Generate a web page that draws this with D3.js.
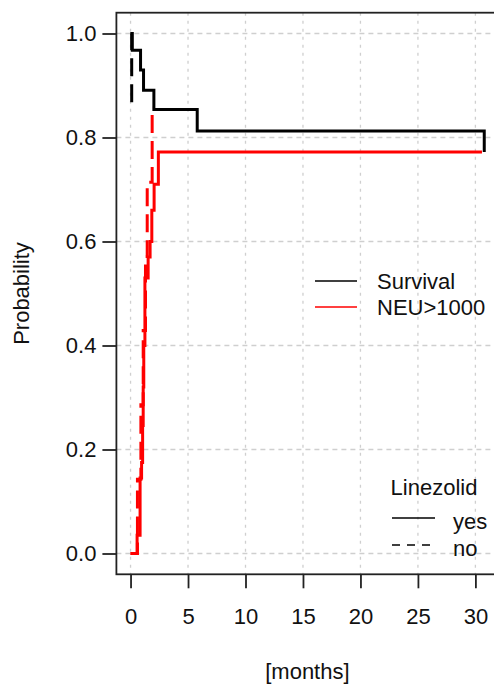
<!DOCTYPE html>
<html>
<head>
<meta charset="utf-8">
<script src="https://cdn.jsdelivr.net/npm/d3@7"></script>
<style>
  html, body { margin: 0; padding: 0; background: #fff; }
  svg { display: block; }
  text { font-family: "Liberation Sans", Arial, Helvetica, sans-serif; fill: #111; }
</style>
</head>
<body>
<script>
// ---- data (months, probability) ----
const xTicks = [0, 5, 10, 15, 20, 25, 30];
const yTicks = [0, 0.2, 0.4, 0.6, 0.8, 1.0];

// Survival, Linezolid = yes (solid black)
const survYesT = [0, 0.15, 0.87, 1.13, 2.03, 5.80, 30.77];
const survYesP = [1.0, 0.968, 0.930, 0.891, 0.854, 0.8125, 0.772];

// Survival, Linezolid = no (dashed black)
const survNoT = [0, 0.10];
const survNoP = [1.0, 0.857];

// NEU>1000, Linezolid = yes (solid red)
const neuYesT = [0, 0.57, 0.83, 0.96, 1.05, 1.10, 1.15, 1.25, 1.53, 1.70, 1.85, 2.05, 2.42, 30.57];
const neuYesP = [0, 0.035, 0.145, 0.175, 0.246, 0.32, 0.40, 0.53, 0.57, 0.60, 0.66, 0.71, 0.772, 0.772];

// NEU>1000, Linezolid = no (dashed red)
const neuNoT = [0, 0.60, 0.90, 1.10, 1.30, 1.45, 1.88, 2.0];
const neuNoP = [0, 0.143, 0.286, 0.429, 0.571, 0.714, 0.857, 0.857];

const legendSeries = ["Survival", "NEU>1000"];
const legendColors = ["#000000", "#ff0000"];
const legendGroupTitle = "Linezolid";
const legendGroups = ["yes", "no"];

// ---- layout ----
const W = 494, H = 687;
const FS = 22;
const svg = d3.select("body").append("svg").attr("width", W).attr("height", H);
svg.append("rect").attr("width", W).attr("height", H).attr("fill", "#fff");

const allT = [].concat(survYesT, survNoT, neuYesT, neuNoT);
const tExt = d3.extent(allT);
const tPad = (tExt[1] - tExt[0]) * 0.04;
const x = d3.scaleLinear().domain([tExt[0] - tPad, tExt[1] + tPad]).range([116.4, 498.4]);
const y = d3.scaleLinear().domain([-0.04, 1.04]).range([574.3, 12.7]);

const [x0, x1] = x.range();
const [yB, yT] = y.range();

// grid
const grid = svg.append("g").attr("stroke", "#cfcfcf").attr("stroke-width", 1.3);
grid.selectAll("line.v").data(xTicks).join("line")
  .attr("x1", d => x(d)).attr("x2", d => x(d))
  .attr("y1", yT).attr("y2", yB)
  .attr("stroke-dasharray", "3,5");
grid.selectAll("line.h").data(yTicks).join("line")
  .attr("x1", x0).attr("x2", x1)
  .attr("y1", d => y(d)).attr("y2", d => y(d))
  .attr("stroke-dasharray", "5,4");

// box (left, top, bottom; right side lies outside the image)
svg.append("rect")
  .attr("x", x0).attr("y", yT).attr("width", x1 - x0).attr("height", yB - yT)
  .attr("fill", "none").attr("stroke", "#222").attr("stroke-width", 1.8);

// axes
const axL = svg.append("g").attr("transform", `translate(${x0},0)`)
  .call(d3.axisLeft(y).tickValues(yTicks).tickFormat(d3.format(".1f")).tickSize(14).tickPadding(6));
const axB = svg.append("g").attr("transform", `translate(0,${yB})`)
  .call(d3.axisBottom(x).tickValues(xTicks).tickFormat(d3.format("d")).tickSize(14).tickPadding(20));
[axL, axB].forEach(g => {
  g.select(".domain").remove();
  g.selectAll(".tick line").attr("stroke", "#222").attr("stroke-width", 1.8);
  g.selectAll(".tick text").attr("font-size", FS).attr("fill", "#111")
    .attr("font-family", '"Liberation Sans", Arial, sans-serif');
});

// axis titles
svg.append("text").attr("x", (x0 + x1) / 2).attr("y", 679)
  .attr("text-anchor", "middle").attr("font-size", FS).text("[months]");
svg.append("text")
  .attr("transform", `translate(29,${(yT + yB) / 2}) rotate(-90)`)
  .attr("text-anchor", "middle").attr("font-size", FS).text("Probability");

// curves
const line = d3.line().x(d => x(d[0])).y(d => y(d[1])).curve(d3.curveStepAfter);
const zip = (t, p) => t.map((v, i) => [v, p[i]]);
const curves = [
  { d: zip(neuNoT, neuNoP), color: legendColors[1], dash: "18,8" },
  { d: zip(neuYesT, neuYesP), color: legendColors[1], dash: null },
  { d: zip(survNoT, survNoP), color: legendColors[0], dash: "18,8" },
  { d: zip(survYesT, survYesP), color: legendColors[0], dash: null }
];
svg.append("g").selectAll("path").data(curves).join("path")
  .attr("d", c => line(c.d))
  .attr("fill", "none")
  .attr("stroke", c => c.color)
  .attr("stroke-width", 3)
  .attr("stroke-linejoin", "miter")
  .attr("stroke-linecap", "butt")
  .attr("stroke-dasharray", c => c.dash);

// legend 1 (series)
const lg1 = svg.append("g");
legendSeries.forEach((s, i) => {
  const yy = 281 + i * 26;
  lg1.append("line").attr("x1", 315).attr("x2", 357).attr("y1", yy).attr("y2", yy)
    .attr("stroke", legendColors[i]).attr("stroke-width", 1.6);
  lg1.append("text").attr("x", 377).attr("y", yy + 8).attr("font-size", FS).text(s);
});

// legend 2 (Linezolid)
const lg2 = svg.append("g");
lg2.append("text").attr("x", 434).attr("y", 495).attr("text-anchor", "middle")
  .attr("font-size", FS).text(legendGroupTitle);
legendGroups.forEach((s, i) => {
  const yy = 518 + i * 27;
  lg2.append("line").attr("x1", 392).attr("x2", 435).attr("y1", yy).attr("y2", yy)
    .attr("stroke", "#000").attr("stroke-width", 1.6)
    .attr("stroke-dasharray", i === 1 ? "8,7" : null);
  lg2.append("text").attr("x", 453).attr("y", yy + 11).attr("font-size", FS).text(s);
});
</script>
</body>
</html>
